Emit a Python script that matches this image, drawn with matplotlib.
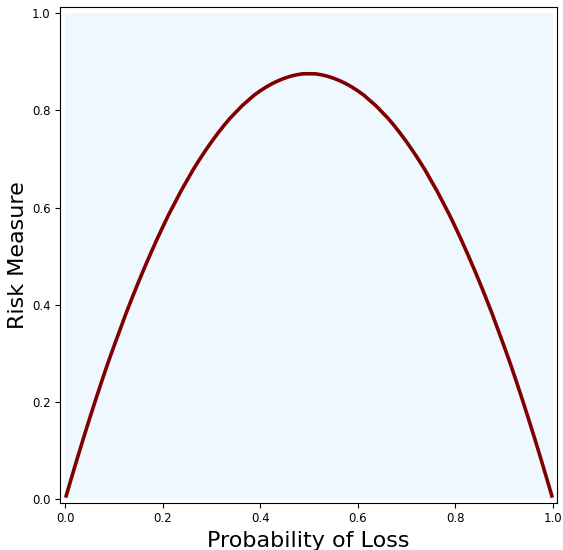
import matplotlib
matplotlib.use("Agg")
import matplotlib.pyplot as plt
from matplotlib.patches import Rectangle

# probability of loss vs. risk measure
prob = [0.002, 0.0125, 0.025, 0.0375, 0.05, 0.0625, 0.075, 0.0875,
        0.1, 0.1125, 0.125, 0.1375, 0.15, 0.1625, 0.175, 0.1875,
        0.2, 0.2125, 0.225, 0.2375, 0.25, 0.2625, 0.275, 0.2875,
        0.3, 0.3125, 0.325, 0.3375, 0.35, 0.3625, 0.375, 0.3875,
        0.4, 0.4125, 0.425, 0.4375, 0.45, 0.4625, 0.475, 0.4875,
        0.5,
        0.5125, 0.525, 0.5375, 0.55, 0.5625, 0.575, 0.5875, 0.6,
        0.6125, 0.625, 0.6375, 0.65, 0.6625, 0.675, 0.6875, 0.7,
        0.7125, 0.725, 0.7375, 0.75, 0.7625, 0.775, 0.7875, 0.8,
        0.8125, 0.825, 0.8375, 0.85, 0.8625, 0.875, 0.8875, 0.9,
        0.9125, 0.925, 0.9375, 0.95, 0.9625, 0.975, 0.9875, 0.998]
risk = [0.007, 0.043, 0.085, 0.126, 0.166, 0.205, 0.243, 0.280,
        0.315, 0.349, 0.383, 0.415, 0.446, 0.476, 0.505, 0.533,
        0.560, 0.586, 0.610, 0.634, 0.656, 0.678, 0.698, 0.717,
        0.735, 0.752, 0.768, 0.783, 0.796, 0.809, 0.820, 0.831,
        0.840, 0.848, 0.855, 0.861, 0.866, 0.870, 0.873, 0.875,
        0.875,
        0.875, 0.873, 0.870, 0.866, 0.861, 0.855, 0.848, 0.840,
        0.831, 0.820, 0.809, 0.796, 0.783, 0.768, 0.752, 0.735,
        0.717, 0.698, 0.678, 0.656, 0.634, 0.610, 0.586, 0.560,
        0.533, 0.505, 0.476, 0.446, 0.415, 0.383, 0.349, 0.315,
        0.280, 0.243, 0.205, 0.166, 0.126, 0.085, 0.043, 0.007]

fig = plt.figure(figsize=(5.63, 5.5), dpi=100)
ax = fig.add_axes([0.107, 0.086, 0.882, 0.901])

ax.add_patch(Rectangle((0, 0), 1, 1, facecolor="#f0f8ff", edgecolor="none", zorder=0))
ax.plot(prob, risk, color="#800000", linewidth=2.6, solid_joinstyle="round")

ax.set_xlim(-0.0102, 1.0082)
ax.set_ylim(-0.007, 1.012)
ax.set_xticks([0.0, 0.2, 0.4, 0.6, 0.8, 1.0])
ax.set_yticks([0.0, 0.2, 0.4, 0.6, 0.8, 1.0])
ax.tick_params(labelsize=8.5)
ax.set_xlabel("Probability of Loss", fontsize=16, labelpad=4)
ax.set_ylabel("Risk Measure", fontsize=16, labelpad=3)

fig.savefig("out.png", dpi=100)
